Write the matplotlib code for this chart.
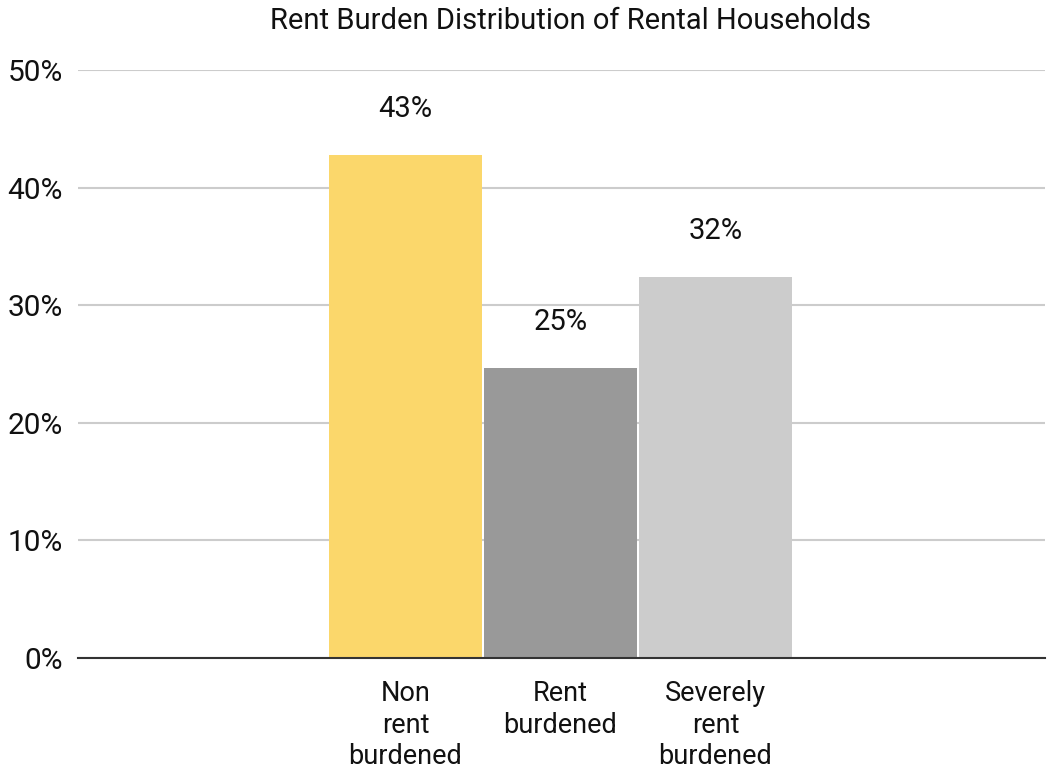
import matplotlib.pyplot as plt
from matplotlib.ticker import FuncFormatter

plt.rcParams['font.family'] = ['Roboto', 'DejaVu Sans']

# share of rental households by rent burden (%)
categories = ['Non\nrent\nburdened', 'Rent\nburdened', 'Severely\nrent\nburdened']
shares = [42.8, 24.7, 32.4]
colors = ['#fbd76b', '#999999', '#cccccc']

fig = plt.figure(figsize=(10.47, 7.72), dpi=100)
ax = fig.add_axes([78 / 1047, 1 - 658 / 772, 967 / 1047, 588 / 772])

x = range(len(categories))
bars = ax.bar(x, shares, width=0.987, color=colors, zorder=3)

for bar, v in zip(bars, shares):
    ax.annotate(f'{v:.0f}%', (bar.get_x() + bar.get_width() / 2, v),
                xytext=(0, 23), textcoords='offset points',
                ha='center', va='bottom', fontsize=21, color='#111111')

ax.set_ylim(0, 50)
ax.set_xlim(-2.113, 4.126)
ax.set_yticks(range(0, 51, 10))
ax.yaxis.set_major_formatter(FuncFormatter(lambda v, p: f'{v:.0f}%'))
ax.set_xticks(list(x))
ax.set_xticklabels(categories, fontsize=19.5, linespacing=1.22)
ax.tick_params(axis='y', labelsize=21.5, length=0, pad=11, labelcolor='#111111')
ax.tick_params(axis='x', length=0, pad=16, labelcolor='#111111')

ax.grid(axis='y', color='#cccccc', linewidth=1.5, zorder=0)
for side in ['top', 'right', 'left']:
    ax.spines[side].set_visible(False)
ax.spines['bottom'].set_color('#333333')
ax.spines['bottom'].set_linewidth(1.5)
ax.spines['bottom'].set_zorder(4)

fig.text(0.545, 0.973, 'Rent Burden Distribution of Rental Households',
         ha='center', va='center', fontsize=21, color='#111111')

fig.savefig('out.png', dpi=100)
